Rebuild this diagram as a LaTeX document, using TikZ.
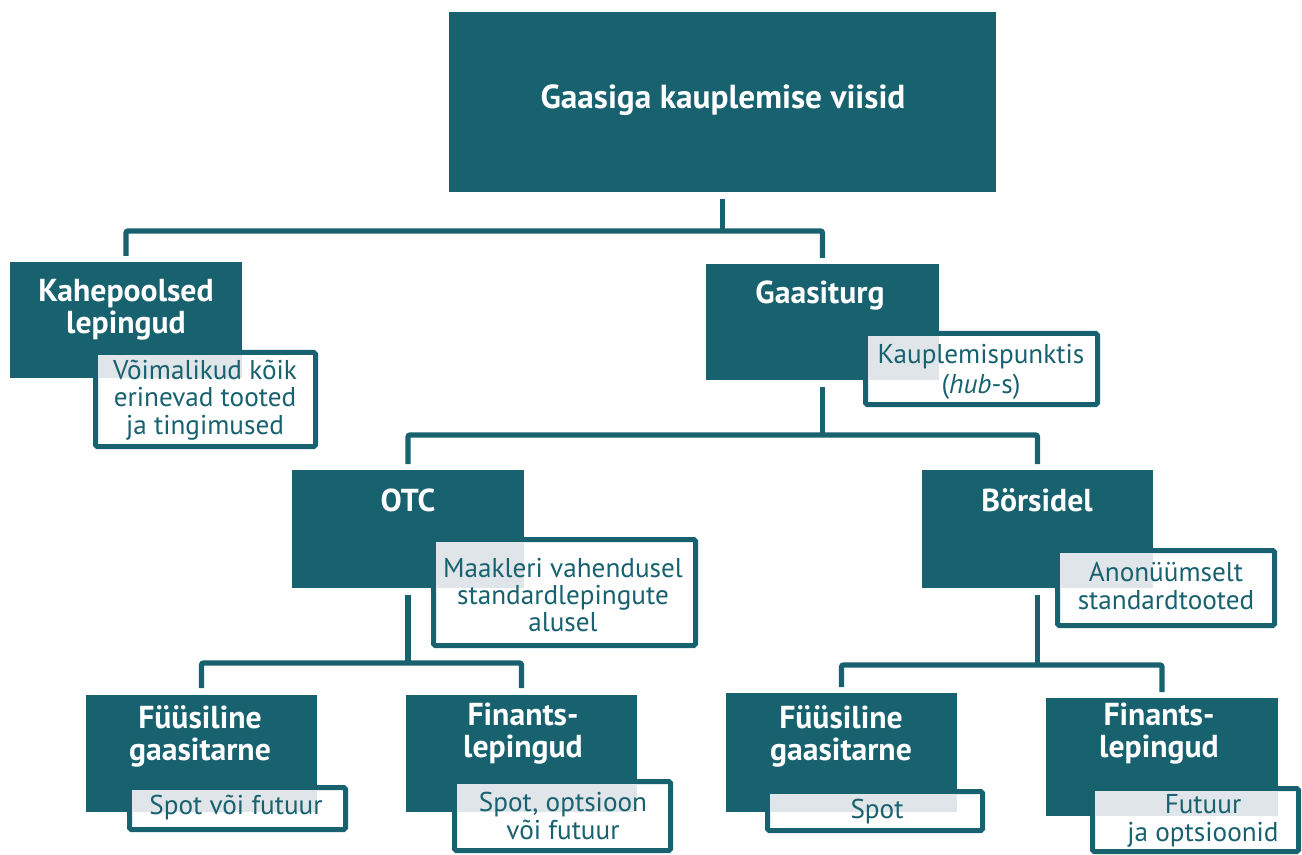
\documentclass[tikz,border=0pt]{standalone}
\usepackage{fontspec}
\setmainfont{PT Sans}
\usetikzlibrary{calc,fit}
\definecolor{tealc}{HTML}{18616F}
\definecolor{overlapc}{HTML}{E0E5E9}
\newcommand\ttlfont{\bfseries\fontsize{25}{28}\selectfont}
\newcommand\hdfont{\bfseries\fontsize{23.8}{24}\selectfont}
\newcommand\sbfont{\fontsize{20.4}{20.6}\selectfont}
\begin{document}
\begin{tikzpicture}[x=0.75pt,y=-0.75pt,
  tealbox/.style={fill=tealc,draw=none,inner sep=0pt,outer sep=0pt},
  subbox/.style={fill=white,draw=tealc,line width=3.75pt,inner sep=0pt,outer sep=0pt,rounded corners=1.2pt},
  overlap/.style={fill=overlapc},
  conn/.style={draw=tealc,line width=3.9pt,rounded corners=1.5pt},
  hd/.style={text=white,font=\hdfont,align=center,inner sep=0pt},
  ttl/.style={text=white,font=\ttlfont,align=center,inner sep=0pt},
  sb/.style={text=tealc,font=\sbfont,align=center,inner sep=0pt}]
\useasboundingbox (0,0) rectangle (1302,855);

% teal boxes
\node[tealbox,fit={(449,12)(996,192)}] (title) {};
\node[tealbox,fit={(10,262)(242,378)}] (kah) {};
\node[tealbox,fit={(706,264)(939,380)}] (gas) {};
\node[tealbox,fit={(292,470)(524,588)}] (otc) {};
\node[tealbox,fit={(922,470)(1153,588)}] (bor) {};
\node[tealbox,fit={(86,695)(317,812)}] (ful) {};
\node[tealbox,fit={(406,695)(637,812)}] (finl) {};
\node[tealbox,fit={(726,693)(957,812)}] (fur) {};
\node[tealbox,fit={(1046,698)(1278,816)}] (finr) {};

% sub boxes
\node[subbox,fit={(95.5,352.5)(315.5,446.5)}] (kahs) {};
\node[subbox,fit={(865.5,333.5)(1097.5,404.5)}] (gass) {};
\node[subbox,fit={(433.5,539.5)(695.5,645.5)}] (otcs) {};
\node[subbox,fit={(1057.5,550.5)(1274.5,625.5)}] (bors) {};
\node[subbox,fit={(129.5,787.5)(345.5,829.5)}] (fuls) {};
\node[subbox,fit={(454.5,781.5)(670.5,850.5)}] (finls) {};
\node[subbox,fit={(767.5,791.5)(982.5,830.5)}] (furs) {};
\node[subbox,fit={(1092.5,788.5)(1298.5,851.5)}] (finrs) {};

% overlap areas
\foreach \s/\t in {kahs/kah,gass/gas,otcs/otc,bors/bor,fuls/ful,finls/finl,furs/fur,finrs/finr}
  \fill[overlap] ($(\s.north west)+(2.2,2.2)$) rectangle (\t.south east);

% connectors
\draw[conn] ($(title.south)+(0,7)$) -- ($(title.south)+(0,38)$);
\draw[conn] ($(kah.north)+(0,-6)$) |- ($(gas.north)+(0,-33)$) -- ($(gas.north)+(0,-6)$);
\draw[conn] ($(gas.south)+(0,7)$) -- ($(gas.south)+(0,55)$);
\draw[conn] ($(otc.north)+(0,-6)$) |- ($(bor.north)+(0,-35)$) -- ($(bor.north)+(0,-6)$);
\draw[conn] ($(otc.south)+(0,7)$) -- ($(otc.south)+(0,75)$);
\draw[conn] ($(ful.north)+(0,-7)$) |- ($(finl.north)+(0,-32)$) -- ($(finl.north)+(0,-7)$);
\draw[conn] ($(bor.south)+(0,7)$) -- ($(bor.south)+(0,77)$);
\draw[conn] ($(fur.north)+(0,-6)$) |- ($(finr.north)+(0,-33)$) -- ($(finr.north)+(0,-6)$);

% headings
\node[ttl] (titlet) at (723,100) {Gaasiga kauplemise viisid};
\node[hd] (kaht) at (126,310) {Kahepoolsed\\lepingud};
\node[hd] (gast) at (820,296) {Gaasiturg};
\node[hd] (otct) at (408,500) {OTC};
\node[hd] (bort) at (1037,500) {Börsidel};
\node[hd] (fult) at (200,736) {Füüsiline\\gaasitarne};
\node[hd] (finlt) at (523,734) {Finants-\\lepingud};
\node[hd] (furt) at (841,736) {Füüsiline\\gaasitarne};
\node[hd] (finrt) at (1159,734) {Finants-\\lepingud};

% sub texts
\node[sb] (kahst) at (205,400) {Võimalikud kõik\\erinevad tooted\\ja tingimused};
\node[sb] (gasst) at (981,372) {Kauplemispunktis\\[1.5pt](\textit{hub}-s)};
\node[sb] (otcst) at (563,595) {Maakleri vahendusel\\standardlepingute\\alusel};
\node[sb] (borst) at (1166,586) {Anonüümselt\\standardtooted};
\node[sb] (fulst) at (236,808) {Spot või futuur};
\node[sb] (finlst) at (563,816) {Spot, optsioon\\või futuur};
\node[sb] (furst) at (877,812) {Spot};
\node[sb] (finrst) at (1203,821) {Futuur\\ja optsioonid};
\end{tikzpicture}
\end{document}
